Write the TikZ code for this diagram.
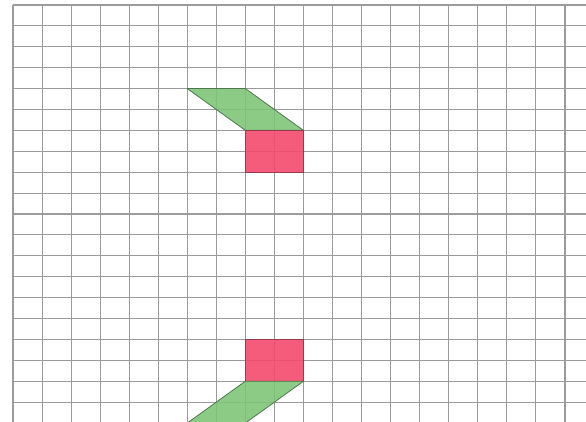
\documentclass[tikz,border=0pt]{standalone}
\definecolor{gridc}{RGB}{155,155,155}
\definecolor{greenf}{RGB}{124,196,118}
\definecolor{greend}{RGB}{80,120,80}
\definecolor{redf}{RGB}{244,74,108}
\definecolor{redd}{RGB}{150,60,80}
\tikzset{
  gridline/.style={gridc, line width=1.1pt},
  greenpiece/.style={fill=greenf, fill opacity=0.88, draw=greend, line width=0.8pt, line join=round},
  redpiece/.style={fill=redf, fill opacity=0.9, draw=redd, line width=0.8pt}
}
\begin{document}
\begin{tikzpicture}[x=1pt,y=-1pt]
\useasboundingbox (0,0) rectangle (586,422);
\fill[white] (0,0) rectangle (586,422);
\foreach \i in {0,...,19} \draw[gridline] ({13+29.05*\i},5) -- ({13+29.05*\i},422);
\foreach \j in {0,...,19} \draw[gridline] (13,{5+20.9*\j}) -- (586,{5+20.9*\j});
\coordinate (c6r4) at ({13+29.05*6},{5+20.9*4});
\coordinate (c8r4) at ({13+29.05*8},{5+20.9*4});
\coordinate (c8r6) at ({13+29.05*8},{5+20.9*6});
\coordinate (c10r6) at ({13+29.05*10},{5+20.9*6});
\coordinate (c10r8) at ({13+29.05*10},{5+20.9*8});
\coordinate (c8r16) at ({13+29.05*8},{5+20.9*16});
\coordinate (c8r18) at ({13+29.05*8},{5+20.9*18});
\coordinate (c10r18) at ({13+29.05*10},{5+20.9*18});
\coordinate (c8r20) at ({13+29.05*8},{5+20.9*20});
\coordinate (c6r20) at ({13+29.05*6},{5+20.9*20});
\draw[greenpiece] (c6r4) -- (c8r4) -- (c10r6) -- (c8r6) -- cycle;
\draw[redpiece] (c8r6) rectangle (c10r8);
\draw[redpiece] (c8r16) rectangle (c10r18);
\draw[greenpiece] (c8r18) -- (c10r18) -- (c8r20) -- (c6r20) -- cycle;
\end{tikzpicture}
\end{document}
